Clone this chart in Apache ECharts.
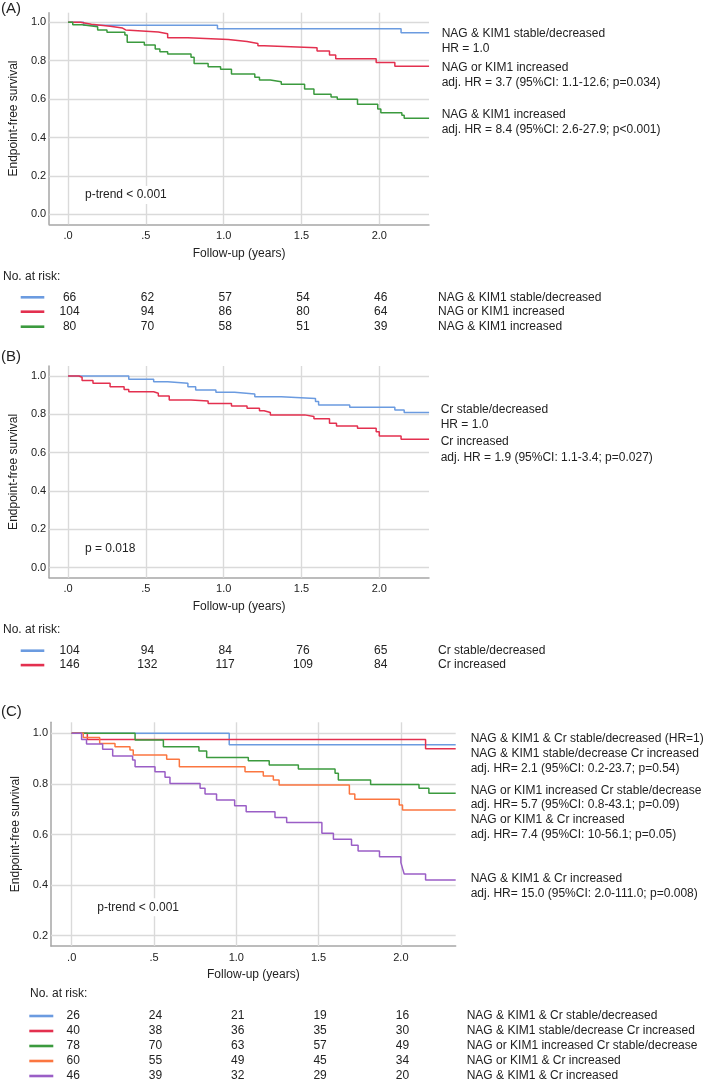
<!DOCTYPE html>
<html><head><meta charset="utf-8">
<script src="https://cdn.jsdelivr.net/npm/echarts@6/dist/echarts.min.js"></script>
<style>html,body{margin:0;padding:0;background:#fff}#c{width:709px;height:1081px}</style>
</head><body><div id="c"></div>
<script>
// ---------- shared ticks ----------
const xTickValues = [0, 0.5, 1, 1.5, 2];
const xTickLabels = ['.0', '.5', '1.0', '1.5', '2.0'];
const yTickValuesAB = [0, 0.2, 0.4, 0.6, 0.8, 1.0];
const yTickValuesC = [0.2, 0.4, 0.6, 0.8, 1.0];
const riskTimes = [0, 0.5, 1, 1.5, 2];

// ---------- Panel A ----------
const A_labels = ['NAG & KIM1 stable/decreased', 'NAG or KIM1 increased', 'NAG & KIM1 increased'];
const A_stable = [[0,1],[0.10,0.985],[0.96,0.966],[2.14,0.945],[2.32,0.945]];
const A_either = [[0,1],[0.08,0.99],[0.15,0.98],[0.27,0.97],[0.35,0.96],[0.37,0.95],[0.58,0.94],[0.64,0.92],[0.77,0.91],[1.03,0.90],[1.15,0.89],[1.22,0.878],[1.26,0.868],[1.60,0.85],[1.68,0.83],[1.72,0.81],[1.98,0.79],[2.10,0.771],[2.32,0.771]];
const A_both = [[0,1],[0.03,0.987],[0.09,0.977],[0.19,0.96],[0.25,0.948],[0.365,0.934],[0.38,0.896],[0.49,0.882],[0.56,0.861],[0.59,0.847],[0.64,0.835],[0.79,0.818],[0.81,0.786],[0.90,0.769],[0.98,0.755],[1.05,0.731],[1.20,0.714],[1.23,0.70],[1.30,0.69],[1.37,0.677],[1.52,0.653],[1.58,0.625],[1.69,0.611],[1.73,0.599],[1.86,0.573],[1.99,0.548],[2.01,0.529],[2.145,0.516],[2.16,0.50],[2.32,0.50]];
const A_risk_stable = [66, 62, 57, 54, 46];
const A_risk_either = [104, 94, 86, 80, 64];
const A_risk_both = [80, 70, 58, 51, 39];
const A_annot = ['NAG & KIM1 stable/decreased', 'HR = 1.0', 'NAG or KIM1 increased', 'adj. HR = 3.7 (95%CI: 1.1-12.6; p=0.034)', 'NAG & KIM1 increased', 'adj. HR = 8.4 (95%CI: 2.6-27.9; p<0.001)'];
const A_ptext = 'p-trend < 0.001';

// ---------- Panel B ----------
const B_labels = ['Cr stable/decreased', 'Cr increased'];
const B_stable = [[0,1],[0.39,0.983],[0.55,0.97],[0.64,0.962],[0.77,0.944],[0.82,0.927],[0.95,0.915],[1.07,0.906],[1.20,0.892],[1.37,0.882],[1.59,0.867],[1.61,0.849],[1.81,0.837],[2.10,0.823],[2.16,0.809],[2.32,0.809]];
const B_incr = [[0,1],[0.07,0.993],[0.09,0.976],[0.16,0.962],[0.27,0.944],[0.36,0.93],[0.39,0.918],[0.55,0.91],[0.58,0.896],[0.65,0.875],[0.79,0.87],[0.90,0.857],[1.05,0.843],[1.15,0.831],[1.23,0.819],[1.26,0.809],[1.30,0.797],[1.52,0.789],[1.58,0.777],[1.68,0.753],[1.725,0.739],[1.86,0.727],[1.98,0.709],[2.00,0.687],[2.14,0.67],[2.32,0.67]];
const B_risk_stable = [104, 94, 84, 76, 65];
const B_risk_incr = [146, 132, 117, 109, 84];
const B_annot = ['Cr stable/decreased', 'HR = 1.0', 'Cr increased', 'adj. HR = 1.9 (95%CI: 1.1-3.4; p=0.027)'];
const B_ptext = 'p = 0.018';

// ---------- Panel C ----------
const C_labels = ['NAG & KIM1 & Cr stable/decreased', 'NAG & KIM1 stable/decrease Cr increased', 'NAG or KIM1 increased Cr stable/decrease', 'NAG or KIM1 & Cr increased', 'NAG & KIM1 & Cr increased'];
const C_s1 = [[0,1],[0.957,0.955],[2.333,0.955]];
const C_s2 = [[0,1],[0.095,0.976],[2.15,0.939],[2.333,0.939]];
const C_s3 = [[0,1],[0.385,0.974],[0.557,0.947],[0.773,0.93],[0.82,0.904],[1.073,0.892],[1.20,0.875],[1.377,0.859],[1.60,0.842],[1.62,0.815],[1.816,0.798],[2.11,0.783],[2.17,0.763],[2.333,0.763]];
const C_s4 = [[0,1],[0.07,0.983],[0.17,0.96],[0.263,0.947],[0.354,0.934],[0.374,0.914],[0.577,0.897],[0.654,0.868],[1.053,0.848],[1.164,0.831],[1.225,0.815],[1.26,0.796],[1.687,0.76],[1.72,0.739],[1.99,0.717],[2.01,0.697],[2.333,0.697]];
const C_s5 = [[0,1],[0.06,0.976],[0.09,0.958],[0.188,0.937],[0.249,0.91],[0.37,0.894],[0.385,0.868],[0.506,0.848],[0.567,0.826],[0.597,0.802],[0.78,0.783],[0.81,0.76],[0.88,0.736],[0.99,0.714],[1.06,0.69],[1.235,0.667],[1.306,0.647],[1.52,0.605],[1.59,0.581],[1.70,0.558],[1.74,0.535],[1.87,0.512],[2.0,0.489],[2.01,0.466],[2.02,0.444],[2.15,0.42],[2.333,0.42]];
const C_risk1 = [26, 24, 21, 19, 16];
const C_risk2 = [40, 38, 36, 35, 30];
const C_risk3 = [78, 70, 63, 57, 49];
const C_risk4 = [60, 55, 49, 45, 34];
const C_risk5 = [46, 39, 32, 29, 20];
const C_annot = ['NAG & KIM1 & Cr stable/decreased (HR=1)', 'NAG & KIM1 stable/decrease Cr increased', 'adj. HR= 2.1 (95%CI: 0.2-23.7; p=0.54)', 'NAG or KIM1 increased Cr stable/decrease', 'adj. HR= 5.7 (95%CI: 0.8-43.1; p=0.09)', 'NAG or KIM1 & Cr increased', 'adj. HR= 7.4 (95%CI: 10-56.1; p=0.05)', 'NAG & KIM1 & Cr increased', 'adj. HR= 15.0 (95%CI: 2.0-111.0; p=0.008)'];
const C_ptext = 'p-trend < 0.001';

// ---------- styling ----------
const BLUE = '#6b9be0', RED = '#e3304f', GREEN = '#3b9a3e', ORANGE = '#fb7640', PURPLE = '#9a5ec6';
const FONT = '"Liberation Sans", Arial, sans-serif';
const TXT = '#222';
const GRIDC = '#dadada';
const AXC = '#a6a6a6';

const chart = echarts.init(document.getElementById('c'), null, {renderer: 'canvas'});

const grids = [
  {left: 47, top: 12.7, width: 382, height: 211.6},
  {left: 47, top: 366, width: 382, height: 211.7},
  {left: 51, top: 722.3, width: 404.7, height: 223.7}
];
const xRanges = [[-0.1214, 2.3195], [-0.1214, 2.3195], [-0.1258, 2.333]];
const yRanges = [[-0.052, 1.05], [-0.0525, 1.052], [0.1593, 1.0435]];
const yTicks = [yTickValuesAB, yTickValuesAB, yTickValuesC];

const xAxes = [], yAxes = [], series = [];
for (let g = 0; g < 3; g++) {
  xAxes.push({
    type: 'value', gridIndex: g, min: xRanges[g][0], max: xRanges[g][1],
    name: 'Follow-up (years)', nameLocation: 'middle', nameGap: 23,
    nameTextStyle: {fontFamily: FONT, fontSize: 12, color: TXT},
    axisLine: {show: true, onZero: false, lineStyle: {color: AXC, width: 1.5}},
    axisTick: {show: false},
    splitLine: {show: false},
    axisLabel: {
      customValues: xTickValues, margin: 6, fontFamily: FONT, fontSize: 11, color: TXT,
      formatter: v => { const i = xTickValues.findIndex(t => Math.abs(t - v) < 1e-6); return i >= 0 ? xTickLabels[i] : ''; }
    }
  });
  yAxes.push({
    type: 'value', gridIndex: g, min: yRanges[g][0], max: yRanges[g][1],
    name: 'Endpoint-free survival', nameLocation: 'middle', nameGap: g === 2 ? 26 : 24,
    nameTextStyle: {fontFamily: FONT, fontSize: 12, color: TXT},
    axisLine: {show: true, onZero: false, lineStyle: {color: AXC, width: 1.5}},
    axisTick: {show: false},
    splitLine: {show: false},
    axisLabel: {
      customValues: yTicks[g], margin: 3, fontFamily: FONT, fontSize: 11, color: TXT,
      formatter: v => v.toFixed(1)
    }
  });
  // grid lines (drawn beneath curves)
  series.push({
    type: 'line', xAxisIndex: g, yAxisIndex: g, data: [[0, 1]], symbol: 'none',
    lineStyle: {width: 0, opacity: 0}, silent: true, z: 1,
    markLine: {
      silent: true, symbol: ['none', 'none'], z: 1, animation: false,
      label: {show: false},
      lineStyle: {type: 'solid', color: GRIDC, width: 1.4},
      data: xTickValues.map(v => ({xAxis: v})).concat(yTicks[g].map(v => ({yAxis: v})))
    }
  });
}

function curve(g, data, color) {
  return {type: 'line', xAxisIndex: g, yAxisIndex: g, data: data, step: 'end',
    symbol: 'none', showSymbol: false, z: 10,
    lineStyle: {color: color, width: 1.5}, emphasis: {disabled: true}};
}
series.push(curve(0, A_stable, BLUE), curve(0, A_either, RED), curve(0, A_both, GREEN));
series.push(curve(1, B_stable, BLUE), curve(1, B_incr, RED));
series.push(curve(2, C_s1, BLUE), curve(2, C_s2, RED), curve(2, C_s3, GREEN), curve(2, C_s4, ORANGE), curve(2, C_s5, PURPLE));

chart.setOption({
  animation: false,
  backgroundColor: '#fff',
  grid: grids, xAxis: xAxes, yAxis: yAxes, series: series
});

// ---------- text / risk tables ----------
const gfx = [];
function txt(text, x, y, size, opts) {
  const o = opts || {};
  gfx.push({type: 'text', silent: true, z: 20, style: Object.assign({
    text: text, x: x, y: y, fill: TXT, font: (size || 12) + 'px ' + FONT,
    align: o.align || 'left', verticalAlign: 'middle',
    textAlign: o.align || 'left', textVerticalAlign: 'middle'
  }, o.extra || {})});
}
function seg(x1, x2, y, color) {
  gfx.push({type: 'line', silent: true, z: 20, shape: {x1: x1, y1: y, x2: x2, y2: y},
    style: {stroke: color, lineWidth: 2.6}});
}

// panel letters
txt('(A)', 1, 9, 15);
txt('(B)', 1, 356.5, 15);
txt('(C)', 1, 711.5, 15);

// p-values (white boxes hide grid lines)
const pBox = {backgroundColor: '#fff', padding: [3, 5, 3, 5]};
txt(A_ptext, 80, 195, 12, {extra: pBox});
txt(B_ptext, 80, 548.3, 12, {extra: pBox});
txt(C_ptext, 92.3, 907.3, 12, {extra: pBox});

// right-side annotations
const A_annY = [34, 49, 68, 83, 115, 130];
A_annot.forEach((s, i) => txt(s, 441.7, A_annY[i], 12));
const B_annY = [410, 425, 441.7, 457.7];
B_annot.forEach((s, i) => txt(s, 440.7, B_annY[i], 12));
const C_annY = [738.3, 753.3, 768.3, 790.3, 805, 819.7, 834.7, 878.7, 893.3];
C_annot.forEach((s, i) => txt(s, 470.7, C_annY[i], 12));

// risk tables
function riskTable(g, headerX, headerY, rowY, lineX, labelX, rows, colors, labels) {
  txt('No. at risk:', headerX, headerY, 12);
  const px = riskTimes.map(t => chart.convertToPixel({xAxisIndex: g}, t));
  rows.forEach((r, i) => {
    seg(lineX[0], lineX[1], rowY[i], colors[i]);
    r.forEach((n, j) => txt(String(n), px[j] + 1.5, rowY[i], 12, {align: 'center'}));
    txt(labels[i], labelX, rowY[i], 12);
  });
}
riskTable(0, 3, 276.7, [297.3, 311.7, 326.7], [20.7, 44.3], 438,
  [A_risk_stable, A_risk_either, A_risk_both], [BLUE, RED, GREEN], A_labels);
riskTable(1, 3, 630.1, [650.7, 665.1], [20.7, 44.3], 438,
  [B_risk_stable, B_risk_incr], [BLUE, RED], B_labels);
riskTable(2, 30, 993.3, [1016, 1031, 1046, 1061, 1076], [29.3, 53.3], 466.7,
  [C_risk1, C_risk2, C_risk3, C_risk4, C_risk5], [BLUE, RED, GREEN, ORANGE, PURPLE], C_labels);

chart.setOption({graphic: gfx});
</script>
</body></html>
